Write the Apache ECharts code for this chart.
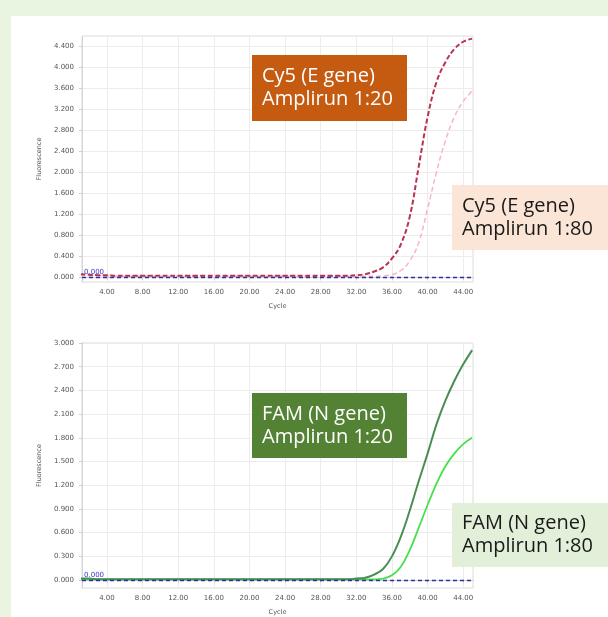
<!DOCTYPE html>
<html>
<head>
<meta charset="utf-8">
<script src="https://cdn.jsdelivr.net/npm/echarts@6/dist/echarts.min.js"></script>
<style>
html,body{margin:0;padding:0;width:608px;height:617px;background:#e9f4e1;overflow:hidden;}
#panel{position:absolute;left:11px;top:16px;width:597px;height:601px;background:#ffffff;}
#chart{position:absolute;left:0;top:0;width:608px;height:617px;}
</style>
</head>
<body>
<div id="panel"></div>
<div id="chart"></div>
<script>
// ---- data ----
const cycles = [1,2,3,4,5,6,7,8,9,10,11,12,13,14,15,16,17,18,19,20,21,22,23,24,25,26,27,28,29,30,31,32,33,34,35,36,37,38,39,40,41,42,43,44,45];
const xTickValues = [4,8,12,16,20,24,28,32,36,40,44];
const yTicksTop = [0,0.4,0.8,1.2,1.6,2.0,2.4,2.8,3.2,3.6,4.0,4.4];
const yTicksBottom = [0,0.3,0.6,0.9,1.2,1.5,1.8,2.1,2.4,2.7,3.0];
const cy5_1_20 = [0.05,0.04,0.03,0.03,0.02,0.02,0.02,0.02,0.02,0.02,0.02,0.02,0.02,0.02,0.02,0.02,0.02,0.02,0.02,0.02,0.02,0.02,0.02,0.02,0.02,0.02,0.02,0.02,0.02,0.02,0.02,0.03,0.05,0.10,0.18,0.35,0.62,1.15,2.10,3.05,3.72,4.10,4.35,4.49,4.55];
const cy5_1_80 = [0.03,0.02,0.02,0.01,0.01,0.01,0.01,0.01,0.01,0.01,0.01,0.01,0.01,0.01,0.01,0.01,0.01,0.01,0.01,0.01,0.01,0.01,0.01,0.01,0.01,0.01,0.01,0.01,0.01,0.01,0.01,0.01,0.01,0.01,0.02,0.04,0.12,0.30,0.65,1.30,2.00,2.60,3.05,3.35,3.55];
const fam_1_20 = [0.02,0.02,0.01,0.01,0.01,0.01,0.01,0.01,0.01,0.01,0.01,0.01,0.01,0.01,0.01,0.01,0.01,0.01,0.01,0.01,0.01,0.01,0.01,0.01,0.01,0.01,0.01,0.01,0.01,0.01,0.01,0.02,0.03,0.07,0.14,0.30,0.55,0.88,1.25,1.60,1.97,2.27,2.52,2.73,2.91];
const fam_1_80 = [0.01,0.01,0.01,0.01,0.01,0.01,0.01,0.01,0.01,0.01,0.01,0.01,0.01,0.01,0.01,0.01,0.01,0.01,0.01,0.01,0.01,0.01,0.01,0.01,0.01,0.01,0.01,0.01,0.01,0.01,0.01,0.01,0.01,0.01,0.02,0.06,0.17,0.38,0.66,0.95,1.22,1.44,1.60,1.72,1.80];
const thresholdLabel = '0.000';
const boxTexts = ['Cy5 (E gene)\nAmplirun 1:20','Cy5 (E gene)\nAmplirun 1:80','FAM (N gene)\nAmplirun 1:20','FAM (N gene)\nAmplirun 1:80'];

const pairs = arr => cycles.map((c,i)=>[c,arr[i]]);
const chart = echarts.init(document.getElementById('chart'), null, {renderer:'canvas'});

const labelFont = {fontFamily:'DejaVu Sans', fontSize:7, color:'#555'};
function xAxisCfg(gi){
  return {
    type:'value', gridIndex:gi, min:1.2, max:45.1,
    name:'Cycle', nameLocation:'middle', nameGap:21,
    nameTextStyle:{fontFamily:'DejaVu Sans', fontSize:6.5, color:'#555'},
    axisLine:{show:true, lineStyle:{color:'#cfcfcf', width:1}},
    axisTick:{show:true, customValues:xTickValues, length:3, lineStyle:{color:'#cfcfcf'}},
    axisLabel:Object.assign({customValues:xTickValues, margin:7, formatter:v=>v.toFixed(2)}, labelFont),
    splitLine:{show:true, lineStyle:{color:'#ececec', width:1}}
  };
}
function yAxisCfg(gi, mx, ticks){
  return {
    type:'value', gridIndex:gi, min:-0.1, max:mx,
    name:'Fluorescence', nameLocation:'middle', nameGap:37,
    nameTextStyle:{fontFamily:'DejaVu Sans', fontSize:6.5, color:'#555'},
    axisLine:{show:true, lineStyle:{color:'#cfcfcf', width:1, type:'dotted'}},
    axisTick:{show:true, customValues:ticks, length:3, lineStyle:{color:'#cfcfcf'}},
    axisLabel:Object.assign({customValues:ticks, margin:8, formatter:v=>v.toFixed(3)}, labelFont),
    splitLine:{show:true, lineStyle:{color:'#ececec', width:1}}
  };
}
function thresholdSeries(xi){
  return {
    type:'line', xAxisIndex:xi, yAxisIndex:xi, data:[], z:5,
    markLine:{
      silent:true, symbol:['none','none'],
      lineStyle:{color:'#2b2fa8', type:[4,3], width:1.3},
      label:{show:true, position:'insideStartTop', formatter:thresholdLabel, color:'#3a3ad0', fontSize:7, fontFamily:'DejaVu Sans', distance:[2,1]},
      data:[{yAxis:0}]
    }
  };
}
function box(x,y,w,h,fill,text,color){
  return [
    {type:'rect', z:100, zlevel:1, shape:{x:x,y:y,width:w,height:h}, style:{fill:fill}},
    {type:'text', z:101, zlevel:1, x:x+10, y:y+h/2, style:{text:text, fill:color, font:'20px "Open Sans"', lineHeight:23, verticalAlign:'middle', align:'left'}}
  ];
}

chart.setOption({
  animation:false,
  backgroundColor:'transparent',
  grid:[
    {left:82, top:36, width:391, height:246, show:true, borderColor:'#dcdcdc', borderWidth:1, backgroundColor:'#fff'},
    {left:82, top:343, width:391, height:247, show:true, borderColor:'#dcdcdc', borderWidth:1, backgroundColor:'#fff'}
  ],
  xAxis:[xAxisCfg(0), xAxisCfg(1)],
  yAxis:[yAxisCfg(0,4.6,yTicksTop), yAxisCfg(1,3.0,yTicksBottom)],
  series:[
    {name:'Cy5 1:80', type:'line', xAxisIndex:0, yAxisIndex:0, data:pairs(cy5_1_80), showSymbol:false, smooth:0.4,
      lineStyle:{color:'#f5b7c6', width:1.5, type:[5,3]}},
    {name:'Cy5 1:20', type:'line', xAxisIndex:0, yAxisIndex:0, data:pairs(cy5_1_20), showSymbol:false, smooth:0.4,
      lineStyle:{color:'#b8324f', width:2, type:[5,2.5]}},
    thresholdSeries(0),
    {name:'FAM 1:80', type:'line', xAxisIndex:1, yAxisIndex:1, data:pairs(fam_1_80), showSymbol:false, smooth:0.4,
      lineStyle:{color:'#46e04a', width:1.8}},
    {name:'FAM 1:20', type:'line', xAxisIndex:1, yAxisIndex:1, data:pairs(fam_1_20), showSymbol:false, smooth:0.4,
      lineStyle:{color:'#4a8d55', width:2}},
    thresholdSeries(1)
  ],
  graphic:[].concat(
    box(252,55,155,66,'#c55a11',boxTexts[0],'#ffffff'),
    box(452,185,156,65,'#fbe5d6',boxTexts[1],'#1a1a1a'),
    box(252,393,155,65,'#548235',boxTexts[2],'#ffffff'),
    box(452,503,156,64,'#e2f0d9',boxTexts[3],'#1a1a1a')
  )
});
</script>
</body>
</html>
